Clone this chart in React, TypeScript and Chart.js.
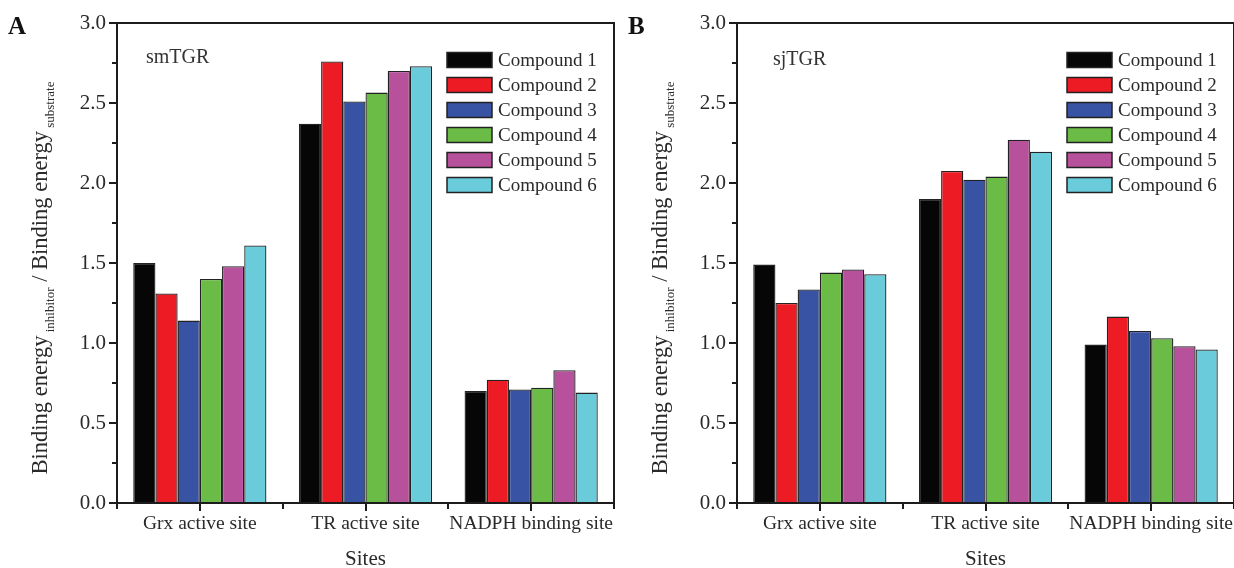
import React, { useEffect, useRef } from 'react';
import { Chart, registerables } from 'chart.js';

Chart.register(...registerables);

// ---------- data ----------
const sites = ['Grx active site', 'TR active site', 'NADPH binding site'];
const compoundLabels = ['Compound 1', 'Compound 2', 'Compound 3', 'Compound 4', 'Compound 5', 'Compound 6'];
const compoundColors = ['#060606', '#ED1C24', '#3852A4', '#6BBC46', '#B8519C', '#6ACBDA'];

// Panel A: smTGR
const smTGR_compound1 = [1.50, 2.37, 0.70];
const smTGR_compound2 = [1.31, 2.76, 0.77];
const smTGR_compound3 = [1.14, 2.51, 0.71];
const smTGR_compound4 = [1.40, 2.565, 0.72];
const smTGR_compound5 = [1.48, 2.70, 0.83];
const smTGR_compound6 = [1.61, 2.73, 0.69];

// Panel B: sjTGR
const sjTGR_compound1 = [1.49, 1.90, 0.99];
const sjTGR_compound2 = [1.25, 2.075, 1.165];
const sjTGR_compound3 = [1.335, 2.02, 1.075];
const sjTGR_compound4 = [1.44, 2.04, 1.03];
const sjTGR_compound5 = [1.46, 2.27, 0.98];
const sjTGR_compound6 = [1.43, 2.195, 0.96];

const yMin = 0;
const yMax = 3;
const yMajorStep = 0.5;
const yMinorStep = 0.25;

const xTitle = 'Sites';
const yTitleMain = 'Binding energy';
const yTitleSub1 = 'inhibitor';
const yTitleSub2 = 'substrate';

const FONT = '"Liberation Serif", "Times New Roman", serif';
const TEXT = '#2a2a2a';

type PanelCfg = {
  letter: string;
  name: string;
  nameX: number;
  nameY: number;
  series: number[][];
};

const panels: PanelCfg[] = [
  {
    letter: 'A',
    name: 'smTGR',
    nameX: 146,
    nameY: 63,
    series: [smTGR_compound1, smTGR_compound2, smTGR_compound3, smTGR_compound4, smTGR_compound5, smTGR_compound6],
  },
  {
    letter: 'B',
    name: 'sjTGR',
    nameX: 153,
    nameY: 65,
    series: [sjTGR_compound1, sjTGR_compound2, sjTGR_compound3, sjTGR_compound4, sjTGR_compound5, sjTGR_compound6],
  },
];

function makeDecorPlugin(cfg: PanelCfg) {
  return {
    id: 'decor' + cfg.letter,
    afterDraw(chart: any) {
      const { ctx, chartArea: ca, scales } = chart;
      const ys = scales.y;
      const xs = scales.x;
      ctx.save();

      // frame
      ctx.strokeStyle = '#1c1c1c';
      ctx.lineWidth = 2;
      ctx.strokeRect(ca.left, ca.top, ca.right - ca.left, ca.bottom - ca.top);

      // y ticks (major + minor)
      const nMinor = Math.round((yMax - yMin) / yMinorStep);
      for (let k = 0; k <= nMinor; k++) {
        const v = yMin + k * yMinorStep;
        const major = Math.abs(v / yMajorStep - Math.round(v / yMajorStep)) < 1e-6;
        const len = major ? 8 : 5;
        const py = Math.round(ys.getPixelForValue(v));
        ctx.beginPath();
        ctx.moveTo(ca.left - len, py);
        ctx.lineTo(ca.left, py);
        ctx.stroke();
      }

      // x ticks: centers (major) + boundaries (minor)
      const n = sites.length;
      for (let i = 0; i < n; i++) {
        const px = Math.round(xs.getPixelForValue(i));
        ctx.beginPath();
        ctx.moveTo(px, ca.bottom);
        ctx.lineTo(px, ca.bottom + 8);
        ctx.stroke();
      }
      for (let i = 0; i <= n; i++) {
        const px = Math.round(xs.getPixelForValue(i - 0.5));
        ctx.beginPath();
        ctx.moveTo(px, ca.bottom);
        ctx.lineTo(px, ca.bottom + 6);
        ctx.stroke();
      }

      // x title
      ctx.fillStyle = TEXT;
      ctx.font = `21px ${FONT}`;
      ctx.textAlign = 'center';
      ctx.textBaseline = 'alphabetic';
      ctx.fillText(xTitle, (ca.left + ca.right) / 2, 565);

      // y title with subscripts (rotated)
      const mainF = `22.5px ${FONT}`;
      const subF = `13px ${FONT}`;
      const segs: [string, string, number][] = [
        [yTitleMain, mainF, 0],
        [' ', subF, 0],
        [yTitleSub1, subF, 7],
        [' / ', mainF, 0],
        [yTitleMain, mainF, 0],
        [' ', subF, 0],
        [yTitleSub2, subF, 7],
      ];
      let total = 0;
      const widths = segs.map(([t, f]) => {
        ctx.font = f;
        const w = ctx.measureText(t).width;
        total += w;
        return w;
      });
      ctx.save();
      ctx.translate(47, 278);
      ctx.rotate(-Math.PI / 2);
      ctx.textAlign = 'left';
      ctx.textBaseline = 'alphabetic';
      let cx = -total / 2;
      segs.forEach(([t, f, dy], i) => {
        ctx.font = f;
        ctx.fillText(t, cx, dy);
        cx += widths[i];
      });
      ctx.restore();

      // panel letter
      ctx.fillStyle = '#111';
      ctx.font = `bold 25px ${FONT}`;
      ctx.textAlign = 'left';
      ctx.fillText(cfg.letter, 8, 34);

      // enzyme name
      ctx.fillStyle = '#333';
      ctx.font = `20px ${FONT}`;
      ctx.fillText(cfg.name, cfg.nameX, cfg.nameY);

      // legend
      const boxL = ca.left + 330;
      const boxW = 45;
      const boxH = 15;
      chart.data.datasets.forEach((ds: any, i: number) => {
        const cy = 60 + i * 25;
        ctx.fillStyle = ds.backgroundColor;
        ctx.fillRect(boxL, cy - boxH / 2, boxW, boxH);
        ctx.strokeStyle = '#222';
        ctx.lineWidth = 1.5;
        ctx.strokeRect(boxL, cy - boxH / 2, boxW, boxH);
        ctx.fillStyle = TEXT;
        ctx.font = `19px ${FONT}`;
        ctx.textBaseline = 'middle';
        ctx.fillText(ds.label, boxL + boxW + 6, cy + 1);
        ctx.textBaseline = 'alphabetic';
      });

      ctx.restore();
    },
  };
}

function Panel({ cfg, left, width }: { cfg: PanelCfg; left: number; width: number }) {
  const ref = useRef<HTMLCanvasElement | null>(null);
  useEffect(() => {
    if (!ref.current) return;
    const chart = new Chart(ref.current, {
      type: 'bar',
      data: {
        labels: sites,
        datasets: cfg.series.map((vals, i) => ({
          label: compoundLabels[i],
          data: vals,
          backgroundColor: compoundColors[i],
          borderColor: '#222',
          borderWidth: 1.3,
          barPercentage: 1,
          categoryPercentage: 0.804,
        })),
      },
      options: {
        responsive: false,
        animation: false,
        devicePixelRatio: 1,
        layout: { padding: { left: 0, right: width - 117 - 497, top: 23, bottom: 0 } },
        plugins: {
          legend: { display: false },
          tooltip: { enabled: false },
          title: { display: false },
        },
        scales: {
          x: {
            type: 'category',
            offset: true,
            grid: { display: false, drawTicks: false },
            border: { display: false },
            ticks: {
              padding: 9,
              color: TEXT,
              font: { family: FONT, size: 19.5 },
              maxRotation: 0,
              autoSkip: false,
            },
            afterFit: (s: any) => {
              s.height = 65;
              s.paddingLeft = 0;
              s.paddingRight = 0;
            },
          },
          y: {
            min: yMin,
            max: yMax,
            grid: { display: false, drawTicks: false },
            border: { display: false },
            ticks: {
              stepSize: yMajorStep,
              padding: 11,
              color: TEXT,
              font: { family: FONT, size: 21 },
              callback: (v: any) => Number(v).toFixed(1),
            },
            afterFit: (s: any) => {
              s.width = 117;
              s.paddingTop = 0;
              s.paddingBottom = 0;
            },
          },
        },
      },
      plugins: [makeDecorPlugin(cfg)],
    });
    return () => chart.destroy();
  }, [cfg, width]);
  return (
    <canvas
      ref={ref}
      width={width}
      height={568}
      style={{ position: 'absolute', left, top: 0, width, height: 568 }}
    />
  );
}

export default function App() {
  return (
    <div style={{ position: 'absolute', left: 0, top: 0, width: 1234, height: 568, background: '#fff' }}>
      <Panel cfg={panels[0]} left={0} width={620} />
      <Panel cfg={panels[1]} left={620} width={614} />
    </div>
  );
}
